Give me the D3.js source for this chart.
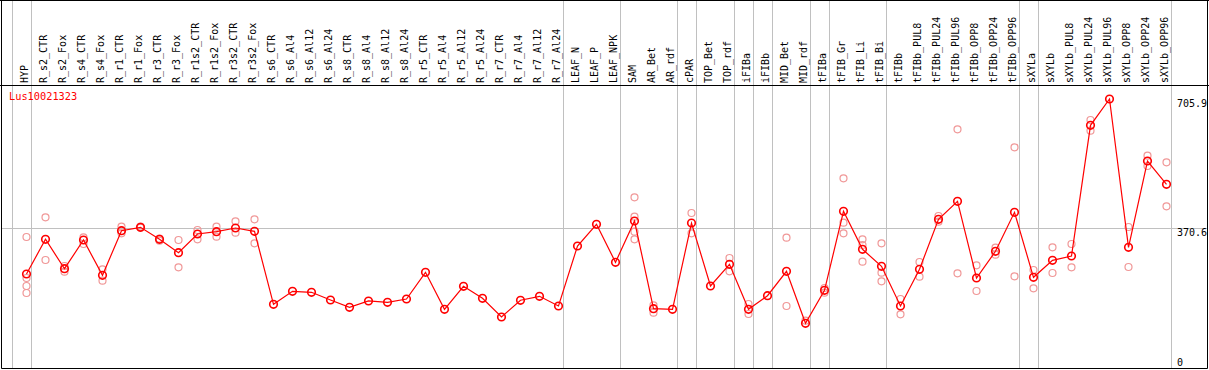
<!DOCTYPE html>
<html>
<head>
<meta charset="utf-8">
<script src="https://cdn.jsdelivr.net/npm/d3@7"></script>
<style>
  body { margin: 0; background: #fff; }
  text { font-family: "DejaVu Sans Mono", monospace; }
</style>
</head>
<body>
<div id="chart"></div>
<script>
var geneName = "Lus10021323";

var samples = ["HYP", "R_s2_CTR", "R_s2_Fox", "R_s4_CTR", "R_s4_Fox", "R_r1_CTR", "R_r1_Fox",
  "R_r3_CTR", "R_r3_Fox", "R_r1s2_CTR", "R_r1s2_Fox", "R_r3s2_CTR", "R_r3s2_Fox",
  "R_s6_CTR", "R_s6_Al4", "R_s6_Al12", "R_s6_Al24", "R_s8_CTR", "R_s8_Al4", "R_s8_Al12", "R_s8_Al24",
  "R_r5_CTR", "R_r5_Al4", "R_r5_Al12", "R_r5_Al24", "R_r7_CTR", "R_r7_Al4", "R_r7_Al12", "R_r7_Al24",
  "LEAF_N", "LEAF_P", "LEAF_NPK", "SAM", "AR_Bet", "AR_rdf", "cPAR", "TOP_Bet", "TOP_rdf",
  "iFIBa", "iFIBb", "MID_Bet", "MID_rdf", "tFIBa", "tFIB_Gr", "tFIB_Li", "tFIB_Bi",
  "tFIBb", "tFIBb_PUL8", "tFIBb_PUL24", "tFIBb_PUL96", "tFIBb_OPP8", "tFIBb_OPP24", "tFIBb_OPP96",
  "sXYLa", "sXYLb", "sXYLb_PUL8", "sXYLb_PUL24", "sXYLb_PUL96", "sXYLb_OPP8", "sXYLb_OPP24", "sXYLb_OPP96"];

// mean expression per sample
var expression = [252.1, 342.1, 265.8, 340.2, 248.7, 364.4, 373.2,
  342.1, 307.3, 355.8, 361.8, 371.4, 362.8,
  173.5, 207.2, 204.6, 184.6, 165.7, 182.1, 178.7, 187.2,
  256.5, 160.5, 220.2, 189.1, 140.6, 183.9, 194.2, 169.1,
  324.7, 381.0, 282.4, 389.5, 162.1, 160.5, 384.3, 221.0, 277.2,
  160.5, 195.8, 259.1, 124.2, 209.8, 414.7, 316.1, 272.0,
  169.1, 264.3, 393.9, 440.6, 241.7, 310.9, 412.1,
  243.5, 287.6, 298.8, 637.7, 705.9, 321.3, 545.1, 484.7];

// individual replicates per sample
var replicates = [[348.0, 241.7, 221.0, 202.8], [399.1, 288.4], [272.8, 258.0], [347.2, 329.9], [264.3, 234.7],
  [374.7, 357.6], [375.0, 372.0], [343.6, 338.4], [340.2, 269.5], [366.2, 342.1], [374.7, 348.8],
  [388.7, 359.2], [393.9, 331.7],
  [], [], [], [], [], [], [], [],
  [], [], [], [], [], [], [], [],
  [], [], [], [451.0, 400.7, 361.8, 342.1], [170.9, 151.7], [], [410.3, 357.6], [], [293.6, 259.1],
  [174.3, 148.3], [], [346.2, 169.1], [131.0], [215.8, 203.6], [500.3, 385.1, 357.6], [342.1, 327.3, 284.0], [331.7, 255.4, 233.1],
  [187.2, 147.6], [283.2, 245.1], [402.5, 387.7], [627.3, 253.9], [274.6, 208.0], [320.3, 302.1], [580.7, 246.1],
  [262.4, 215.0], [321.3, 254.7], [329.9, 269.5], [651.5, 623.7], [], [374.0, 270.2], [558.9, 532.2], [541.8, 427.6]];

// last sample of each group (gray separators)
var groupEnds = ["HYP", "R_r7_Al24", "LEAF_NPK", "AR_rdf", "cPAR", "TOP_rdf", "iFIBa", "iFIBb",
  "MID_rdf", "tFIBa", "tFIB_Bi", "tFIBb_OPP96", "sXYLa", "sXYLb_OPP96"];

var yTicks = [705.9, 370.6, 0];
var refValue = 370.6;

var W = 1209, H = 370;
var headerY = 85.5, bottomY = 368.5, leftX = 1.5, rightX = 1207.5;

var svg = d3.select('#chart').append('svg').attr('width', W).attr('height', H);

var x = d3.scalePoint().domain(samples).range([26.5, 1166.5]);
var step = x.step();
var y = d3.scaleLinear().domain([0, d3.max(expression)]).range([371.2, 99]);

// separators
var sepX = [x(samples[0]) - step + 4].concat(groupEnds.map(function(s) { return x(s) + 4; }));
svg.selectAll('.sep').data(sepX).enter().append('line')
  .attr('class', 'sep')
  .attr('x1', function(d) { return Math.round(d) + 0.5; })
  .attr('x2', function(d) { return Math.round(d) + 0.5; })
  .attr('y1', 0).attr('y2', bottomY)
  .attr('stroke', '#c0c0c0').attr('stroke-width', 1);

// reference line
svg.append('line')
  .attr('x1', leftX).attr('x2', rightX)
  .attr('y1', Math.round(y(refValue)) + 0.5).attr('y2', Math.round(y(refValue)) + 0.5)
  .attr('stroke', '#c0c0c0').attr('stroke-width', 1);

// frame
svg.append('line').attr('x1', 0).attr('x2', W).attr('y1', 0.5).attr('y2', 0.5).attr('stroke', '#000');
svg.append('line').attr('x1', 0).attr('x2', W).attr('y1', headerY).attr('y2', headerY).attr('stroke', '#000');
svg.append('line').attr('x1', leftX).attr('x2', leftX).attr('y1', 0).attr('y2', bottomY).attr('stroke', '#000');
svg.append('line').attr('x1', rightX).attr('x2', rightX).attr('y1', 0).attr('y2', bottomY).attr('stroke', '#000');
svg.append('line').attr('x1', leftX).attr('x2', rightX).attr('y1', bottomY).attr('y2', bottomY).attr('stroke', '#000');

// column labels
svg.selectAll('.lab').data(samples).enter().append('text')
  .attr('class', 'lab')
  .attr('transform', function(d) { return 'translate(' + (x(d) + 1) + ',83) rotate(-90)'; })
  .attr('font-size', '10px')
  .attr('fill', '#000')
  .text(function(d) { return d; });

// right value labels
svg.selectAll('.tick').data(yTicks).enter().append('text')
  .attr('class', 'tick')
  .attr('x', 1177)
  .attr('y', function(d) { return Math.min(y(d) + 8, 366); })
  .attr('font-size', '10px')
  .attr('fill', '#000')
  .text(function(d) { return d; });

// title
svg.append('text').attr('x', 9).attr('y', 100)
  .attr('font-size', '10.3px').attr('fill', '#ff0000')
  .text(geneName);

// replicate points
var reps = [];
replicates.forEach(function(arr, i) {
  arr.forEach(function(v) { reps.push({ s: samples[i], v: v }); });
});
svg.selectAll('.rep').data(reps).enter().append('circle')
  .attr('class', 'rep')
  .attr('cx', function(d) { return x(d.s); })
  .attr('cy', function(d) { return y(d.v); })
  .attr('r', 3.5)
  .attr('fill', 'none')
  .attr('stroke', '#f09898')
  .attr('stroke-width', 1.2);

// mean line
var line = d3.line()
  .x(function(d, i) { return x(samples[i]); })
  .y(function(d) { return y(d); });
svg.append('path').datum(expression)
  .attr('d', line)
  .attr('fill', 'none')
  .attr('stroke', '#ff0000')
  .attr('stroke-width', 1.2);

svg.selectAll('.pt').data(expression).enter().append('circle')
  .attr('class', 'pt')
  .attr('cx', function(d, i) { return x(samples[i]); })
  .attr('cy', function(d) { return y(d); })
  .attr('r', 3.8)
  .attr('fill', 'none')
  .attr('stroke', '#ff0000')
  .attr('stroke-width', 1.6);
</script>
</body>
</html>
